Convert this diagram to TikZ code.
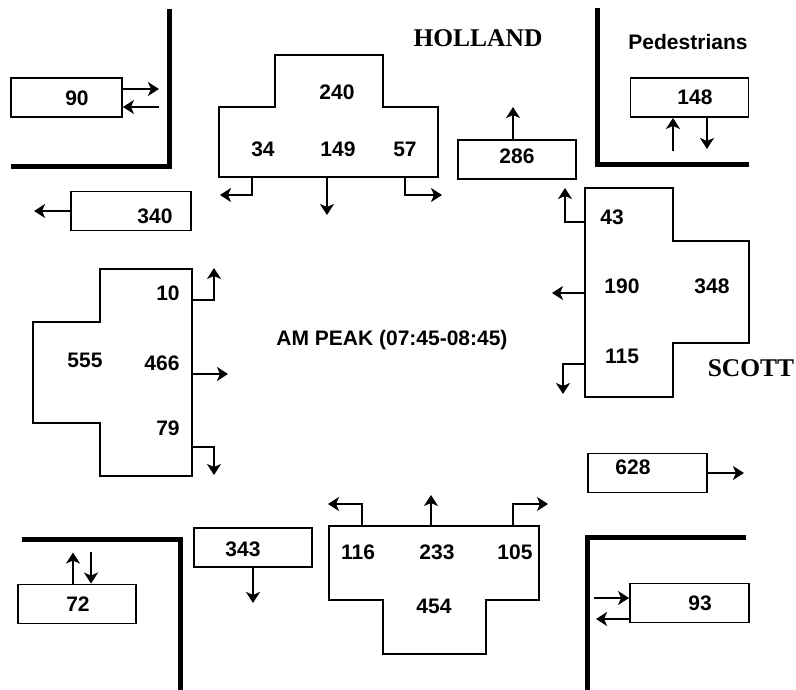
\documentclass[tikz,border=0pt]{standalone}
\usepackage{fontspec}
\setmainfont{Liberation Serif}
\setsansfont{Liberation Sans}
\usetikzlibrary{arrows.meta, positioning}

\begin{document}
\begin{tikzpicture}[
      x=1pt, y=-1pt,
      num/.style={font=\sffamily\bfseries\fontsize{21}{22}\selectfont},
      street/.style={font=\rmfamily\bfseries\fontsize{25.5}{26}\selectfont},
      vbox/.style={draw, line width=1.9pt, minimum width=118pt, minimum height=39pt, inner sep=0pt},
      lane/.style={line width=1.9pt},
      flow/.style={line width=1.7pt, -{Stealth[length=11pt,width=14pt,inset=3pt]}},
      kerb/.style={line width=5pt}
    ]
    \useasboundingbox (0,0) rectangle (796,690);

    % Marciapiedi
    \draw[kerb] (11,167) -- (169,167) -- (169,9);
    \draw[kerb] (597,8) -- (597,165) -- (749,165);
    \draw[kerb] (22,539) -- (180,539) -- (180,690);
    \draw[kerb] (746,537) -- (587,537) -- (587,690);

    % Nomi
    \node[street] (holland) at (478,38) {HOLLAND};
    \node[street] (scott) at (751,368) {SCOTT};
    \node[num] (ped) at (688,42) {Pedestrians};
    \node[num] (peak) at (392,340) {AM PEAK (07:45-08:45)};

    % Pedoni
    \node[vbox, minimum width=111pt] (b90) at (66.5,97.5) {};
    \node[num] at (77,98) {90};
    \draw[flow] ([yshift=8.5pt]b90.east) -- ++(36,0);
    \draw[flow] ([shift={(36,9.5)}]b90.east) -- ([yshift=-9.5pt]b90.east);

    \node[vbox] (b148) at (689.5,97.5) {};
    \node[num] at (695,97) {148};
    \draw[flow] ([shift={(-16.5,33)}]b148.south) -- ([xshift=-16.5pt]b148.south);
    \draw[flow] ([xshift=17.5pt]b148.south) -- ++(0,31);

    \node[vbox] (b72) at (77,604) {};
    \node[num] at (78,604) {72};
    \draw[flow] ([xshift=-4pt]b72.north) -- ++(0,-31);
    \draw[flow] ([shift={(14,-32)}]b72.north) -- ([xshift=14pt]b72.north);

    \node[vbox, minimum width=119pt] (b93) at (689.5,603) {};
    \node[num] at (700,603) {93};
    \draw[flow] ([shift={(-35,-5)}]b93.west) -- ([yshift=5pt]b93.west);
    \draw[flow] ([yshift=-16pt]b93.west) -- ++(-33,0);

    % Uscite
    \node[vbox, minimum width=120pt] (b340) at (131,211) {};
    \node[num] at (155,216) {340};
    \draw[flow] (b340.west) -- ++(-36,0);

    \node[vbox] (b286) at (517,159.5) {};
    \node[num] at (517,156) {286};
    \draw[flow] ([xshift=-4pt]b286.north) -- ++(0,-32);

    \node[vbox, minimum width=119pt] (b628) at (647.5,473) {};
    \node[num] at (633,467) {628};
    \draw[flow] (b628.east) -- ++(36,0);

    \node[vbox] (b343) at (253,547.5) {};
    \node[num] at (243,549) {343};
    \draw[flow] (b343.south) -- ++(0,35);

    % Holland
    \draw[lane] (275,55) -- (383,55) -- (383,107) -- (438,107) -- (438,177)
      -- (219,177) -- (219,107) -- (275,107) -- cycle;
    \coordinate (hL) at (252,177);
    \coordinate (hT) at (327,177);
    \coordinate (hR) at (405,177);
    \node[num] at (337,92) {240};
    \node[num] at (263,149) {34};
    \node[num] at (338,149) {149};
    \node[num] at (405,149) {57};
    \draw[flow] (hL) -- ++(0,18) -- ++(-32,0);
    \draw[flow] (hT) -- ++(0,38);
    \draw[flow] (hR) -- ++(0,18) -- ++(37,0);

    % Scott
    \draw[lane] (585,188) -- (673,188) -- (673,241) -- (749,241) -- (749,343)
      -- (673,343) -- (673,397) -- (585,397) -- cycle;
    \coordinate (sR) at (585,222);
    \coordinate (sT) at (585,293);
    \coordinate (sL) at (585,364);
    \node[num] at (612,217) {43};
    \node[num] at (622,286) {190};
    \node[num] at (712,286) {348};
    \node[num] at (622,356) {115};
    \draw[flow] (sR) -- ++(-20,0) -- ++(0,-34);
    \draw[flow] (sT) -- ++(-33,0);
    \draw[flow] (sL) -- ++(-22,0) -- ++(0,30);

    % Ovest
    \draw[lane] (100,269) -- (192,269) -- (192,476) -- (100,476) -- (100,423)
      -- (33,423) -- (33,322) -- (100,322) -- cycle;
    \coordinate (wL) at (192,300);
    \coordinate (wT) at (192,374);
    \coordinate (wR) at (192,447);
    \node[num] at (168,293) {10};
    \node[num] at (85,360) {555};
    \node[num] at (162,363) {466};
    \node[num] at (168,428) {79};
    \draw[flow] (wL) -- ++(22,0) -- ++(0,-32);
    \draw[flow] (wT) -- ++(36,0);
    \draw[flow] (wR) -- ++(22,0) -- ++(0,28);

    % Sud
    \draw[lane] (329,526) -- (539,526) -- (539,600) -- (486,600) -- (486,654)
      -- (383,654) -- (383,600) -- (329,600) -- cycle;
    \coordinate (nL) at (362,526);
    \coordinate (nT) at (431,526);
    \coordinate (nR) at (513,526);
    \node[num] at (358,552) {116};
    \node[num] at (437,552) {233};
    \node[num] at (515,552) {105};
    \node[num] at (434,606) {454};
    \draw[flow] (nL) -- ++(0,-22) -- ++(-34,0);
    \draw[flow] (nT) -- ++(0,-31);
    \draw[flow] (nR) -- ++(0,-22) -- ++(35,0);
  \end{tikzpicture}
\end{document}
